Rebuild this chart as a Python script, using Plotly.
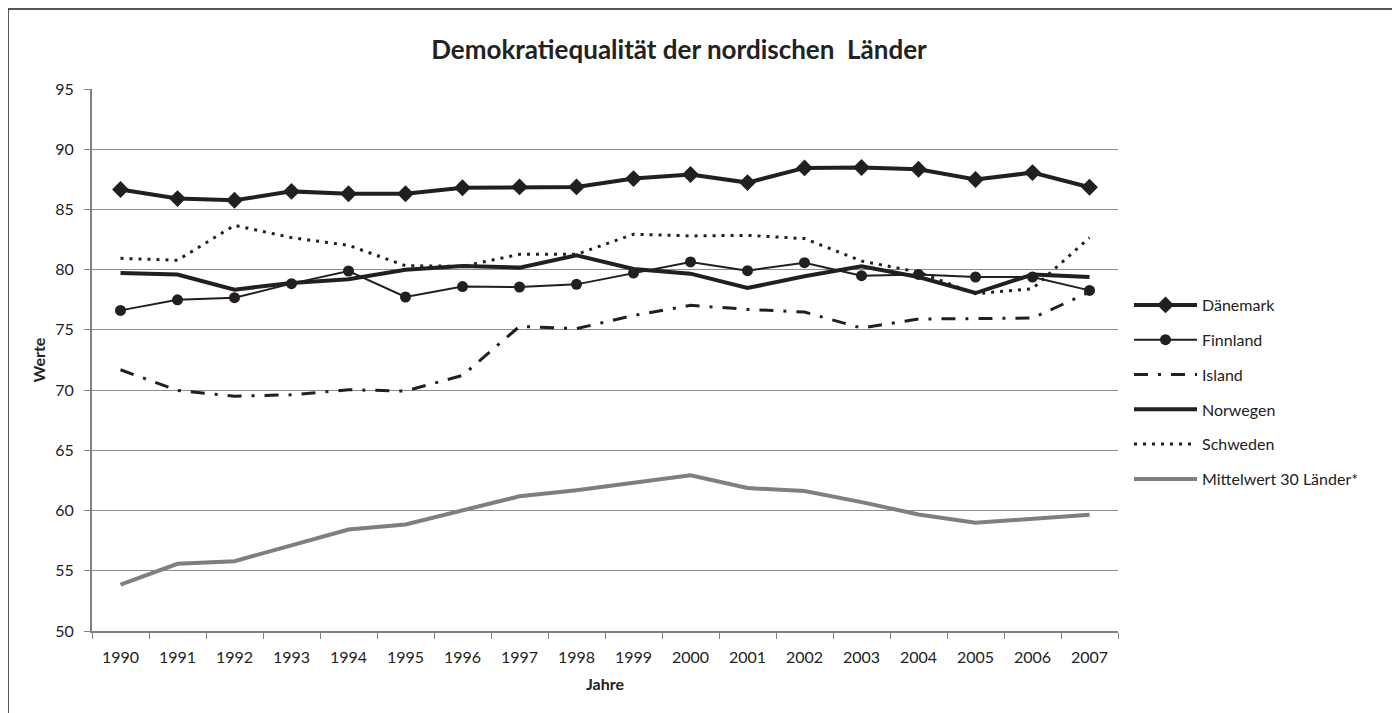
import plotly.graph_objects as go

years = [str(y) for y in range(1990, 2008)]
daenemark = [86.65, 85.9, 85.76, 86.5, 86.3, 86.3, 86.8, 86.87, 86.87, 87.56, 87.9, 87.23, 88.45, 88.48, 88.34, 87.48, 88.06, 86.84]
finnland = [76.62, 77.5, 77.67, 78.84, 79.89, 77.73, 78.6, 78.56, 78.78, 79.72, 80.64, 79.92, 80.58, 79.5, 79.6, 79.39, 79.39, 78.28]
island = [71.69, 69.97, 69.5, 69.61, 70.03, 69.92, 71.22, 75.29, 75.1, 76.2, 77.04, 76.7, 76.48, 75.15, 75.9, 75.93, 75.98, 78.14]
norwegen = [79.72, 79.6, 78.34, 78.9, 79.2, 80.0, 80.3, 80.17, 81.19, 80.05, 79.67, 78.48, 79.45, 80.28, 79.39, 78.06, 79.6, 79.39]
schweden = [80.94, 80.78, 83.68, 82.66, 82.02, 80.33, 80.28, 81.27, 81.27, 82.94, 82.8, 82.85, 82.58, 80.72, 79.8, 78.0, 78.42, 82.66]
mittelwert = [53.86, 55.58, 55.8, 57.1, 58.43, 58.85, 60.01, 61.18, 61.68, 62.3, 62.92, 61.87, 61.62, 60.7, 59.68, 58.99, 59.32, 59.65]

FONT = "Lato"
BLACK = "#231f20"
TXT = "#222"

# page has an 8px body margin -> figure is 1392x705 drawn at (8, 8)
W, H = 1392, 705
L, R, T, B = 84, 282, 81, 82
PW = W - L - R
PH = H - T - B

fig = go.Figure()
fig.add_trace(go.Scatter(x=years, y=daenemark, name="Dänemark", mode="lines+markers",
                         line=dict(color=BLACK, width=4),
                         marker=dict(symbol="diamond", size=13, color=BLACK),
                         legendgroup="a"))
fig.add_trace(go.Scatter(x=years, y=finnland, name="Finnland", mode="lines+markers",
                         line=dict(color=BLACK, width=2),
                         marker=dict(symbol="circle", size=11, color=BLACK),
                         legendgroup="b"))
fig.add_trace(go.Scatter(x=years, y=island, name="Island", mode="lines",
                         line=dict(color=BLACK, width=3, dash="14px,10px,3px,10px"),
                         legendgroup="c"))
fig.add_trace(go.Scatter(x=years, y=norwegen, name="Norwegen", mode="lines",
                         line=dict(color=BLACK, width=4),
                         legendgroup="d"))
fig.add_trace(go.Scatter(x=years, y=schweden, name="Schweden", mode="lines",
                         line=dict(color=BLACK, width=3, dash="3px,6px"),
                         legendgroup="e"))
fig.add_trace(go.Scatter(x=years, y=mittelwert, name="Mittelwert 30 Länder*", mode="lines",
                         line=dict(color="#7f7f7f", width=4),
                         legendgroup="f"))

fig.update_layout(
    width=W, height=H,
    margin=dict(l=L, r=R, t=T, b=B),
    paper_bgcolor="white", plot_bgcolor="white",
    font=dict(family=FONT, size=16, color=TXT),
    title=dict(text="<b>Demokratiequalität der nordischen  Länder</b>",
               xref="container", x=671 / W, xanchor="center",
               yref="container", y=1 - 42 / H, yanchor="middle",
               font=dict(family=FONT, size=26, color=TXT)),
    showlegend=True,
    legend=dict(x=(1121 - L) / PW, xanchor="left", y=(623 - 280) / PH, yanchor="top",
                font=dict(family=FONT, size=16, color=TXT),
                tracegroupgap=11, traceorder="grouped", itemwidth=63,
                bgcolor="rgba(0,0,0,0)"),
    xaxis=dict(type="category", range=[-0.5, 17.5], showgrid=False, showline=True,
               linecolor="#808080", linewidth=2,
               ticks="outside", tickson="boundaries", ticklen=6, tickcolor="#808080", tickwidth=1,
               ticklabelstandoff=11,
               tickfont=dict(family=FONT, size=16, color=TXT),
               title=dict(text="<b>Jahre</b>", font=dict(family=FONT, size=16, color=TXT), standoff=14),
               fixedrange=True),
    yaxis=dict(range=[50, 95], dtick=5, showgrid=True, gridcolor="#8c8c8c", gridwidth=1,
               showline=True, linecolor="#808080", linewidth=2, zeroline=False,
               ticks="outside", ticklen=6, tickcolor="#808080", tickwidth=1,
               ticklabelstandoff=7,
               tickfont=dict(family=FONT, size=16, color=TXT),
               title=dict(text="<b>Werte</b>", font=dict(family=FONT, size=16, color=TXT), standoff=6),
               fixedrange=True),
)

fig.add_shape(type="rect", xref="paper", yref="paper",
              x0=(0 - L) / PW, x1=(1389 - L) / PW,
              y0=(PH + T - 760) / PH, y1=(PH + T - 1) / PH,
              line=dict(color="#222", width=1.5), fillcolor="rgba(0,0,0,0)", layer="below")

fig.write_html("out.html")
